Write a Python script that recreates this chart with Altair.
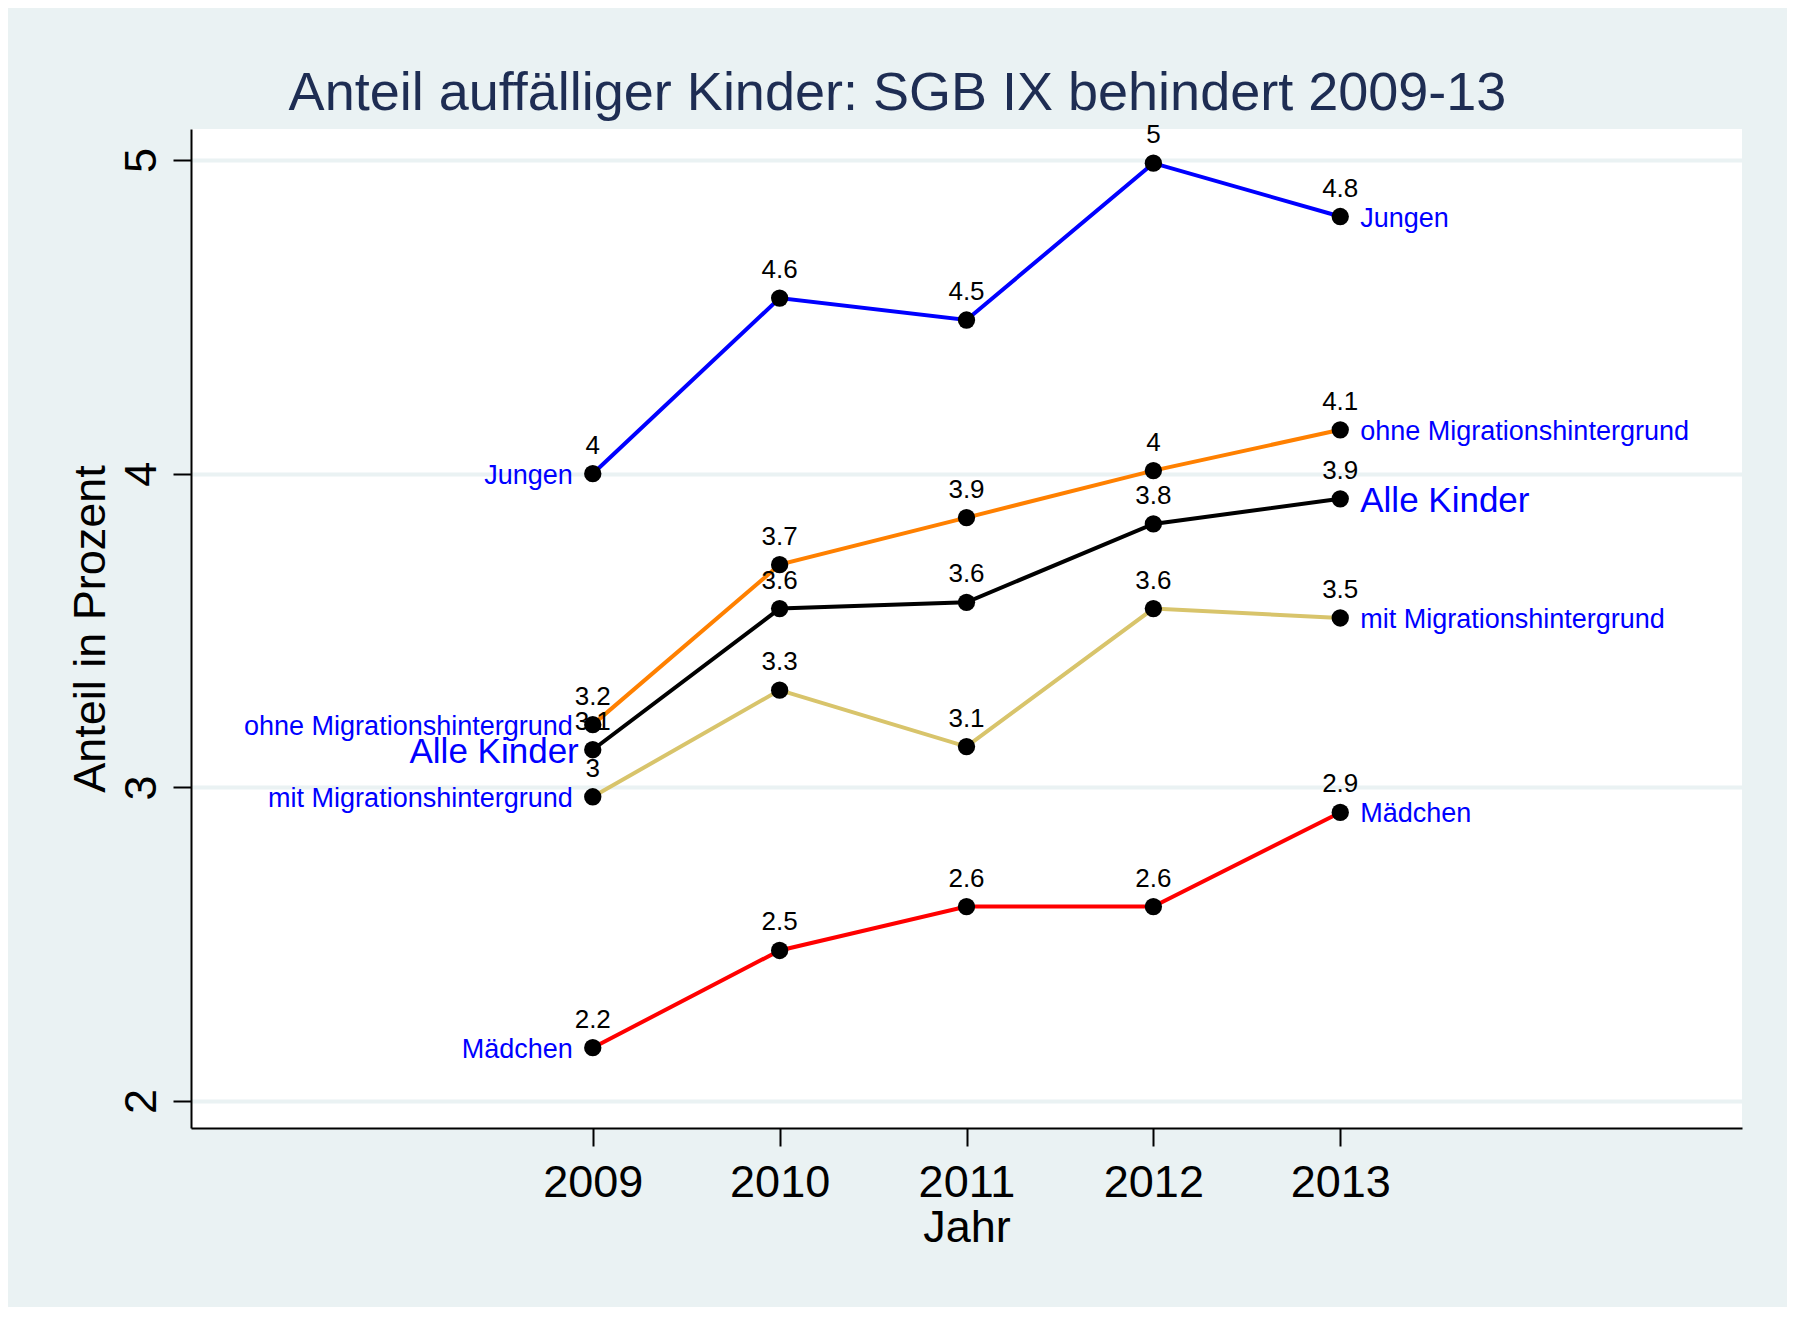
import altair as alt
import pandas as pd

years = [2009, 2010, 2011, 2012, 2013]
groups = ["Jungen", "ohne Migrationshintergrund", "Alle Kinder",
          "mit Migrationshintergrund", "Mädchen"]
jungen = [4.00, 4.56, 4.49, 4.99, 4.82]
ohne_mig = [3.20, 3.71, 3.86, 4.01, 4.14]
alle = [3.12, 3.57, 3.59, 3.84, 3.92]
mit_mig = [2.97, 3.31, 3.13, 3.57, 3.54]
maedchen = [2.17, 2.48, 2.62, 2.62, 2.92]
colors = ["#0000FF", "#FF8000", "#000000", "#D8C46B", "#FF0000"]

series = [jungen, ohne_mig, alle, mit_mig, maedchen]
rows = []
for g, vals in zip(groups, series):
    for y, v in zip(years, vals):
        rows.append({"Jahr": y, "Wert": v, "Gruppe": g,
                     "Label": f"{round(v, 1):g}"})
df = pd.DataFrame(rows)

FONT = "Liberation Sans"

x = alt.X("Jahr:Q",
          scale=alt.Scale(domain=[2006.85, 2015.15], nice=False, zero=False),
          axis=alt.Axis(values=years, format="d", title="Jahr", grid=False,
                        labelFontSize=45, titleFontSize=45, labelPadding=14,
                        titlePadding=0, tickSize=18, labelFlush=False))
y = alt.Y("Wert:Q",
          scale=alt.Scale(domain=[1.914, 5.099], nice=False, zero=False),
          axis=alt.Axis(values=[2, 3, 4, 5], title="Anteil in Prozent",
                        labelAngle=270, labelAlign="center",
                        labelBaseline="alphabetic", labelFontSize=45,
                        titleFontSize=45, labelPadding=18, titlePadding=6,
                        tickSize=18, grid=True, labelFlush=False))

base = alt.Chart(df).encode(x=x, y=y)

lines = base.mark_line(strokeWidth=4).encode(
    color=alt.Color("Gruppe:N", scale=alt.Scale(domain=groups, range=colors),
                    legend=None),
    detail="Gruppe:N")
points = base.mark_circle(size=300, color="black", opacity=1)
values = base.mark_text(dy=-20, baseline="alphabetic", fontSize=26,
                        font=FONT, color="black").encode(text="Label:N")

left = base.transform_filter(
    (alt.datum.Jahr == 2009) & (alt.datum.Gruppe != "Alle Kinder")
).mark_text(align="right", baseline="middle", dx=-20, dy=2, fontSize=27,
            font=FONT, color="#0000FF").encode(text="Gruppe:N")
left_alle = base.transform_filter(
    (alt.datum.Jahr == 2009) & (alt.datum.Gruppe == "Alle Kinder")
).mark_text(align="right", baseline="middle", dx=-14, dy=2, fontSize=35,
            font=FONT, color="#0000FF").encode(text="Gruppe:N")
right = base.transform_filter(
    (alt.datum.Jahr == 2013) & (alt.datum.Gruppe != "Alle Kinder")
).mark_text(align="left", baseline="middle", dx=20, dy=2, fontSize=27,
            font=FONT, color="#0000FF").encode(text="Gruppe:N")
right_alle = base.transform_filter(
    (alt.datum.Jahr == 2013) & (alt.datum.Gruppe == "Alle Kinder")
).mark_text(align="left", baseline="middle", dx=20, dy=2, fontSize=35,
            font=FONT, color="#0000FF").encode(text="Gruppe:N")

chart = alt.layer(lines, points, values, left, left_alle, right, right_alle).properties(
    width=1551, height=999,
    title=alt.TitleParams("Anteil auffälliger Kinder: SGB IX behindert 2009-13",
                          fontSize=54, font=FONT, color="#1E2D53",
                          fontWeight="normal", anchor="middle", dx=-69,
                          dy=61, baseline="alphabetic", offset=19),
    autosize=alt.AutoSizeParams(type="none"),
    padding={"left": 183, "top": 121, "right": 45, "bottom": 179},
).configure(
    background="#EAF2F3",
    font=FONT,
).configure_view(
    fill="white", stroke=None,
).configure_axis(
    labelFont=FONT, titleFont=FONT, labelColor="black", titleColor="black",
    titleFontWeight="normal", domainColor="black", domainWidth=2,
    tickColor="black", tickWidth=2, gridColor="#EAF2F3", gridWidth=4,
)

chart.save("out.html", embed_options={"renderer": "svg", "actions": False})
